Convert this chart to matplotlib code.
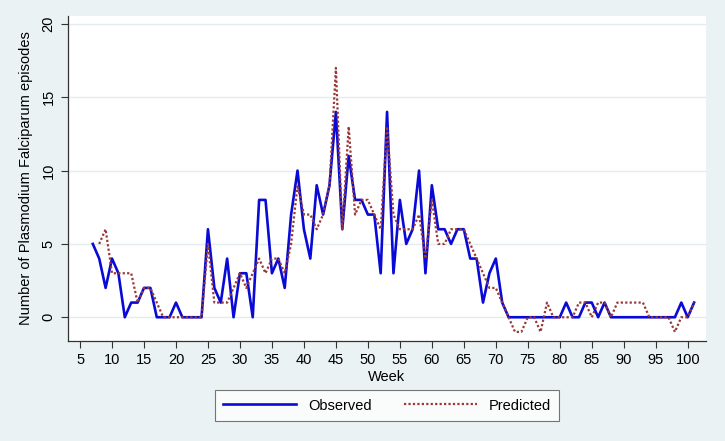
import matplotlib
matplotlib.use("Agg")
import matplotlib.pyplot as plt
import numpy as np

plt.rcParams['font.family'] = ['Liberation Sans', 'DejaVu Sans']

obs_start_week = 7
observed = [5, 4, 2, 4, 3, 0, 1, 1, 2, 2, 0, 0, 0, 1, 0, 0, 0, 0,
            6, 2, 1, 4, 0, 3, 3, 0, 8, 8, 3, 4, 2, 7, 10, 6, 4, 9, 7, 9,
            14, 6, 11, 8, 8, 7, 7, 3, 14, 3, 8, 5, 6, 10, 3, 9, 6, 6, 5, 6,
            6, 4, 4, 1, 3, 4, 1, 0, 0, 0, 0, 0, 0, 0, 0, 0, 1, 0, 0, 1,
            1, 0, 1, 0, 0, 0, 0, 0, 0, 0, 0, 0, 0, 0, 1, 0, 1]
pred_start_week = 8
predicted = [5, 6, 3, 3, 3, 3, 1, 2, 2, 1, 0, 0, 0, 0, 0, 0, 0,
             5, 1, 1, 1, 2, 3, 2, 3, 4, 3, 4, 4, 3, 5, 9, 7, 7, 6, 7, 9,
             17, 6, 13, 7, 8, 8, 7, 6, 13, 7, 6, 6, 6, 7, 4, 8, 5, 5, 6, 6,
             6, 5, 4, 3, 2, 2, 1, 0, -1, -1, 0, 0, -1, 1, 0, 0, 0, 0, 1, 1,
             0, 1, 1, 0, 1, 1, 1, 1, 1, 0, 0, 0, 0, -1, 0, 0, 1]
x_ticks = list(range(5, 101, 5))
y_ticks = [0, 5, 10, 15, 20]

obs_weeks = np.arange(obs_start_week, obs_start_week + len(observed))
pred_weeks = np.arange(pred_start_week, pred_start_week + len(predicted))

bg = '#eaf2f3'
fig = plt.figure(figsize=(7.25, 4.41), dpi=100, facecolor=bg)
ax = fig.add_axes([68/725, 1-341/441, (706-68)/725, (341-16)/441])
ax.set_facecolor('white')

ax.plot(obs_weeks, observed, color='#0a0ad6', lw=1.9, label='Observed', zorder=3)
ax.plot(pred_weeks, predicted, color='#983838', lw=1.6, ls=(0, (1, 1)), label='Predicted', zorder=4)

ax.set_xlim(3.12, 102.86)
ax.set_ylim(-1.62, 20.54)
ax.set_xticks(x_ticks)
ax.set_yticks(y_ticks)
ax.set_yticklabels([str(v) for v in y_ticks], rotation=90, va='center')
ax.tick_params(axis='both', labelsize=10.5, length=5, width=0.8, color='#333333', direction='out')
ax.tick_params(axis='y', pad=4)
ax.tick_params(axis='x', pad=4)
ax.grid(axis='y', color='#e3ecef', lw=1.0)
ax.set_axisbelow(True)
for s in ['top', 'right']:
    ax.spines[s].set_visible(False)
for s in ['left', 'bottom']:
    ax.spines[s].set_color('#333333')
    ax.spines[s].set_linewidth(0.9)

ax.set_xlabel('Week', fontsize=10.5, labelpad=2)
ax.set_ylabel('Number of Plasmodium Falciparum episodes', fontsize=10.5, labelpad=6)

leg = fig.legend(loc='center', bbox_to_anchor=(387/725, 1-405.5/441), ncol=2,
                 fontsize=10.5, frameon=True, fancybox=False, edgecolor='#555555',
                 handlelength=5.0, columnspacing=2.2, handletextpad=0.8,
                 borderpad=0.55, borderaxespad=0)
leg.get_frame().set_linewidth(0.8)
leg.get_frame().set_facecolor('white')

fig.savefig('out.png', dpi=100, facecolor=bg)
